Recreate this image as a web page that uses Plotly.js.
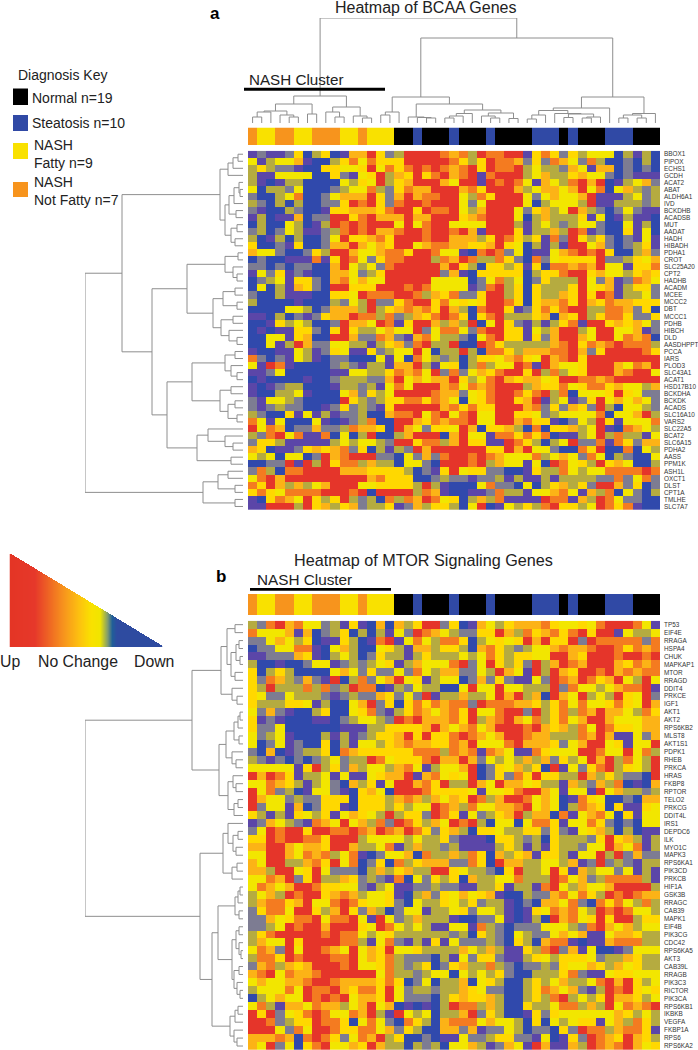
<!DOCTYPE html>
<html><head><meta charset="utf-8">
<script src="https://cdn.plot.ly/plotly-3.0.1.min.js"></script>
<style>html,body{margin:0;padding:0;background:#fff}#c{width:698px;height:1050px}</style>
</head><body><div id="c"></div>
<script>
// ---------- data ----------
const bcaaGenes = ["BBOX1","PIPOX","ECHS1","GCDH","ACAT2","ABAT","ALDH6A1","IVD","BCKDHB","ACADSB","MUT","AADAT","HADH","HIBADH","PDHA1","CROT","SLC25A20","CPT2","HADHB","ACADM","MCEE","MCCC2","DBT","MCCC1","PDHB","HIBCH","DLD","AASDHPPT","PCCA","IARS","PLOD3","SLC43A1","ACAT1","HSD17B10","BCKDHA","BCKDK","ACADS","SLC16A10","VARS2","SLC22A5","BCAT2","SLC6A15","PDHA2","AASS","PPM1K","ASH1L","OXCT1","DLST","CPT1A","TMLHE","SLC7A7"];
const mtorGenes = ["TP53","EIF4E","RRAGA","HSPA4","CHUK","MAPKAP1","MTOR","RRAGD","DDIT4","PRKCE","IGF1","AKT1","AKT2","RPS6KB2","MLST8","AKT1S1","PDPK1","RHEB","PRKCA","HRAS","FKBP8","RPTOR","TELO2","PRKCG","DDIT4L","IRS1","DEPDC6","ILK","MYO1C","MAPK3","RPS6KA1","PIK3CD","PRKCB","HIF1A","GSK3B","RRAGC","CAB39","MAPK1","EIF4B","PIK3CG","CDC42","RPS6KA5","AKT3","CAB39L","RRAGB","PIK3C3","RICTOR","PIK3CA","RPS6KB1","IKBKB","VEGFA","FKBP1A","RPS6","RPS6KA2"];
// expression level of each cell, R(ed, up) O A Y L K G P B(lue, down)
const bcaaCells = [
"PGPPGYBKYBPAARYGKRRRRO AOKROORRPYOYGYKLLLBKPKB",
"LPKLLAPBBKYOLOYYYRRRRR OYKYROOAGYGOALGOKBBGBKB",
"KYKGGPBBYYLLYRLOYORORO AORYROORKLKKGALPAABGBGB",
"KPPLLLLBBYGPLYRKAYRYOR AORPORRRKLAKKYALLGBGPPP",
"KPBPKKBBBBLKYLRKYARRRA LRRPROROLPALKORARBPKLAG",
"LBKKGLBBBGKLLOKGYOAARR RAOYRRRAKLAALARLOBLAKGK",
"GBBKLOBBGLAAARYGARAOOR RLKOYRRRLGLALLARPPPKLGK",
"KGBKBKBBGGYRORYGORRORR RLGLRRRRLBKLLLKRPPKKKGK",
"GPBBKGBBPYYAAAYORRYROO RLKARRRLGYAKLRAKGBGLGPP",
"PKBPPABGGRRYORAAARAARR RYAORRRLBKAKKKYPLBPKPPB",
"BKBBLKBPKRORORRRLRLORR LLLLRRRKPKLKGKLLGBBLPKB",
"GKBGLKPPGKORORAAORRORR ORAPRRRYPKKAKROPGBBYPLB",
"KBPKBKBBGLRYYAOYRRRORR AAAKYROYKYPOGRYKYGBGPLP",
"YBBGPYBBGAARALAYRRLAOO AAYYARYLBKPKPRRLAGBGKYP",
"ALLGBBGYKRRALLAOOYRROL LPBOROGLBPPLAORORYBBKAG",
"BGBBPPPOPYROLGYOORRRKO AROKKOYGBOGLYYYYRGGKYLA",
"GGBGBGGBBARLKLGORRRRRA RYKBYYKYPYBOOAOARLLPYYO",
"PLGYPGPBBAALGKYRRRRRRG APBYYYYYBKYYORRYALLKYAY",
"BGKLPYYGBAOLALLRRRRRLL LLBGLOKLBGYKKKRLGAPGOAL",
"BLBKPAYGBRRYYYRRROROLL LLPGORKYBYKKKYRLYAPKYYG",
"GBBKPPPBBYYLROOORROKAY OGGYRRKYBYKKAYRYROPKKLG",
"KBBBBPBBBKGLKRGGYORRYO LYLYRROYBYAAOYRAYOAAYYY",
"BBBBLLKBGAAAKRKYAOAOYR AKBORRYPGYOYORRKKOOAGYB",
"PPBKBGPGYAAROOKOGKAYOR OYBYORKKKYABAYRKYOOYGGY",
"BBPYKLKBBGRAALROPYRRAK AKRBLRYGPKPKYOPRRYAYALG",
"BPBPPYYGBYRYKKLALLRGLO OLGORRYYPLKARRKLRRLLAPG",
"BBLLPYABBRRAGGOAGPAOLK KGBLORYYPYGARRALRRLOAOB",
"BBLPKRAGGLLKKPKYAGORKK RBBROYKKKKKAORYOAOROOOK",
"PBBPPLKPGYLPPYGKLLRLBK KRKBOOYKAAAOORAGYRRRROY",
"OGBGPLKPBGGBBBLPLBOLKG KBKYYLAOYLRAORYRRRRRRRR",
"LPROPBBBBGKGPKKPAARKPL YBKOKLLROPRALLYRRRALOAR",
"PPGLBBBBBPPLLKKYOAOLRG OGLAYORRYRKOKLYRRRAORRL",
"BPBBBBPBBGKKKGGARLALAA RYKLORAYAALYRROOAORRRRR",
"PBPGKKBBBPKKGKPLOLRRRA OLOAORRRKAYYOLYOOYALLKA",
"PBBKKLPBBBLAGYKLRRRROA AGLYORROYORKOBLLLYRYLGG",
"GPLLKGBBBBRYKGKYYOOYOA LBLYORRYARPKLPGYRLALALG",
"GPGKGGBBPGYGKGPYRRRRRA OYOYYRRRAOGYGAYGRKBLLKG",
"KGBBYPLPKPGGKBBAOORLOR LORLLRRYYLGKLLLLOBLLARK",
"OLPLBBBLPBPGKOBBRRAYOA OORLLRRAOYYPBGLKRYPLLLO",
"RLOABGGAGGKOAAYBRALGYY LRABYYAKBOBYYAKLRPBOALK",
"KGORLOPPOBLBKRBBKARRRB ARLLPOOYOYOBPPKLRKOKKPL",
"GYYKPPPPPKLKLLKGRRYOOK ARYYPPROYKBKLRGGOPOYGAA",
"AYBPPGYAYAOGYBKPKGRARR RRRRYYRARLLGBBOYRBBOBLK",
"LKLBLLBGRAORRRGGBLGAGO RRORO ALLLOKLALGOLBKGBBL",
"BBGGRPRKRYOOKAKKBLLGBR RRORKALLPLBROLYKRYALBBK",
"GOKBOORRRRAAAYYYYKBGPY RLYYGGBBPYKKOLKLLOOOORO",
"LORARRRRRRRRRAOYYYBBGK GGPGGKPKPPKPKKKKGGOGLOG",
"OYRAKAKLARRRLLYYYYKRKP BBBLOGGBLBKYAKYGRRAGYBG",
"YOYLOOOORRRORBRRRRKOAP BBPPGOKKPLLAOLPAKOBLGBK",
"PBYOALRYKYRKGKBOKOAROL YBKAKOPPPPROOPAKROLGGBB",
"PPRRRKRYAKYAGKKYPGAKYY KBLRBPLKYKORYYKLROYOPBB"];
const mtorCells = [
"KGORAOLLGKPYPBABAKYRRG YBPALKYAAAOYLLYLORRROLP",
"OLLLAPABGKYBKBKPLGROAL KGGYYRAKOYAOYORYRRPLKKL",
"GGLALKYBPPYKBPORPLOLKO OYBKLYLYRARYYRGROOOOOGO",
"BGGLLOOPBLAKBBLYKPAAKY YKBAOYKGKLLAOAAORROYOAO",
"PPGGGAYPBKLKBGYKKPKYKK KLKLOYKYYLLRRAYRRRORROR",
"KBBPBBGLLPGKGKLYPKALLL ORGLRYKYGRKAROARRRAYOAO",
"YBKYKBBBBLALGYGGLGOLKA AGGLKRALPRKRAYRRORAOAOO",
"YGOAKGAGPRBKOGLARLYPKL LBGAGYGPPLGROAROYARLKRL",
"YKRKKKOKOGKROOBPKGLKKB BLRLLRLLKKKRGOLLKLAOORP",
"YLGGLKKKGPGKGGAYGLGRPK KAKKLRARKABRALRKLKRYLRG",
"YKKKYYLPKBBLARGYBYOYOA OOGROOOAAYKYOLOLLYOYLRA",
"LGAGPBBKYBBLYOGPKYOALA OYRLLORRGRKYOKOARAALKOY",
"YPGPBBBPPBGKLLKGRORAAA OYRKAORALOKYOLARRALLLAA",
"YGGLBBBBBBPPPKKYYYYARA LAOLARRRORAYAKOLROYYLAA",
"LGKLPBBBKPKPGKYYARYRYY OROALARROAAKKKOARAPPLGA",
"LBGLPGBBYBKPLLKYAOAAYY OARLLLORAAAYGLARRLYPLLR",
"GBABPGKKYBOAYYYYYYOOOK OAOPOALPPOYLLLRROLLRLOK",
"KGPGBGBGKLGKKROLYYYORA ARAGLKLKAKAGYKLRARKOLKR",
"LLLLLPYRKYGAKLLKAOLPKL LARBGYLAKYBRPLGYORKYLKR",
"RAROYPKKLPLPPLYAARPAOL YLRBGYGOYRYYKKRAKYKGGBR",
"LLOAYKPKLGBAKYPLRRAOYR KKRALRAALYKKPAKGAKOBPBA",
"RLOGKBPLLGPBYALBRRROYY YYLPLLYORRALPLLPRLAKKGK",
"RALLGKGGYYYBYYYKAOAKAL AYROKARROLALBPOYLBBGBAA",
"RGLLPABGYYPBYYYKYKLLRO AKOLLAAORLALBKOAYBYPPYL",
"YKPKPYLKYPLAYLKRKYYGRO YPLGKYARKAABOPLAOLBYPLL",
"PGALKGPOALRLAKOGROYKAL RORKBLLBLOOYPLLOYGBGBLL",
"GLRORRYRROOROAROAROYGY AKBYYLKKYYGYGPLYAKBKBPP",
"YYRORROOYRRRKLLLLKLKKY GPPPBYYKGKBYKKKGYRYAKPK",
"AARRALAAYRRAKKLOPKAKKG KPPPPKYKPKPYKKGLLRALOPK",
"LLRRALOAOKLOPBGLLABOKK AKOYBAKYAPYYKPLLRKRGAGG",
"ALRRKKAOYRLOBGYBOKYAAA GGOYBRAAKKLLKAPGRGKGPKK",
"AAKRRLYRLGGGBKAKYAKKRR YLKKGBYRKKLRYPAKLLGLPKP",
"LLOARGYRKKAYGKGPOBLGYK YBAKKLLOKKKROLAGKOOOOKP",
"LOALARROYYLLGPKLPPGGKG GPPKKYPKKPORLKALLARRRRK",
"KLAKRORRYAOAKLLYPBKAGY LALYAPBBKGGAOLOYKROROAA",
"KAOOYARLLOROYLLYGBLKKY LKYGKKPBGBAALOGBOYOLKOK",
"GYOOLRRYKARYGAKBGLLPKK LYGLLKPBPYLOAOLKROROLLK",
"GGALYOORLOORLPRLGKAKKK PBBGGLPBPKBRAOLYRYRRKYY",
"GGKLRORRARRRYLROLKLKPP LLPOKGBGGGLLLKGORALAKLL",
"KYORRRRROROOLKLYKKKKKK GKBYKGBLKGGLALAPPLAAYKK",
"KALLRYRRRROOKPLOGPKPYP LGGGKGBYKBAOOPBPPAOOOKK",
"LOAGRLRROALRLAYRLLYKKK KALKAKPPYKORGAPLBBPGLLL",
"KOOYRORRROORLAYOKGGGBK PLGYYGPPKYLKYYYLGKKAYKK",
"GAOKAYARRRORLLYOKGKYBG YAKKOKGBGGKGYLLAYKALYKK",
"AORLOAAORRRRRRLOKKGKLL BLKLKYGBBKKKYOGPPLYYLLL",
"LALLAAORROAAAAYOYBGLBK KABLYKBBKYKLAKKLORARYKL",
"KLLLOLROORAYOOYRLGKKGK KAYLGGBBKYOALAGPKRORYLY",
"BKLALLRORORLAAYRLGGGBK YAYYAKBBKYKORKLKYRAAYKL",
"LOKPAALOAAKLARLABPBPBK ROOKAKBBYKKLOOKAKRLOAOR",
"RYRGLYOROLLOARKPRLKLBK KARGYKBBPYGYLLLLLLAYKLK",
"RROGKYYROOYBLOLGBOYKBA OOOLALLKBYBLKLYYPLAKOYK",
"RRRLGOLRROYYOOLAGYKBBA AGAPGGLKBGGBYGROOKAOOYP",
"AAAOABOROYGLOARKYBBGBP PLGGKYYGGPLBPYGROAYRAYK",
"ALRGLBYORLLAYRAKKBKGKB LLAKPGALPRAPPAKROAORALY"];
// diagnosis of each sample column: F NASH fatty, N NASH not fatty, H normal, S steatosis
const sampleDiagnosis = "NFFNNFFNNNFFNFFFHHSHHHSHHHSHHHHSSSHSHHHSSSHHH";
const diagnosisKey = [["Normal n=19","#000000"],["Steatosis n=10","#3049a5"],["NASH","#f9e100"],["NASH","#f7941d"]];
// dendrograms as nested [height, childA, childB]; a number child is a leaf index
const bcaaColumnTree = [105,
  [27,[19,[12,[11,[6,0,1],2],[8,3,[6,4,5]]],[9,6,7]],[16,[11,8,[6,9,10]],[7,11,[5,12,13]]]],
  [85,
    [26,[11,[8,14,15],16],[19,[6,17,[5.5,18,[5,19,20]]],[13,[9.5,[7,[5,21,22],23],24],[10,[7,25,[5,26,27]],[4.5,28,29]]]]],
    [26,[15,[12.5,[8,[4,30,31],32],[9.5,33,[9,[5.5,34,35],[6,[5,36,37],38]]]],39],[9.5,[8,[5,40,41],[5,42,43]],44]]]];
const bcaaRowTree = [158,
  [121,
    [23,[15,[10,[5,0,1],2],3],[18,[14,[9,[4,4,[3,5,6]],7],[7,8,9]],[12,[6,10,11],[8,12,13]]]],
    [91,
      [56,[18,[5,14,15],[10,16,[6,17,18]]],[30,[20,[8,19,20],[6,21,22]],[22,[10,23,24],[14,25,[6,26,27]]]]],
      [76,[51,[18,[8,28,29],[12,30,[6,31,32]]],[23,[12,33,34],[15,[8,35,36],[6,37,38]]]],
          [46,[35,39,[18,40,[10,41,42]]],[12,43,44]]]]],
  [40,[25,[15,45,46],[8,47,48]],[8,49,50]]];
const mtorRowTree = [158,
  [51,
    [22,[16,[8,0,1],[12,[7,[4,2,3],[3,4,5]],[8,6,7]]],[11,8,[6,9,10]]],
    [24,[17,[9,[5,[3,11,12],13],[4,14,15]],[11,16,[7,17,18]]],[15,[10,19,[7,20,21]],[9,[5,22,23],24]]]],
  [43,
    [20,[15,25,[10,[5,26,27],[7,28,29]]],[11,[6,30,31],32]],
    [31,[25,[8,[5,[3,33,34],35],[4,36,37]],[11,[7,[4,38,39],[4,40,[2,41,42]]],[9,[4,43,44],[6,45,[3,46,47]]]]],
        [13,[8,[5,48,49],50],[9,51,[6,52,53]]]]]];
// ---------- styling ----------
const levelOrder = "ROAYLKGPB";
const levelColors = ["#e5352a","#f47b20","#fcb316","#ffd800","#f2e600","#b5ab40","#7d7c92","#5b46a8","#3049ac"];
const diagOrder = "HSFN";
const diagColors = ["#000000","#3049a5","#f9e100","#f7941d"];
const rampStops = [[0,"#e43525"],[0.16,"#e6382a"],[0.35,"#f7941d"],[0.45,"#fdc010"],[0.53,"#f9e100"],[0.59,"#f0e500"],[0.64,"#7f9a70"],[0.67,"#1f5f98"],[0.7,"#2e4ba0"],[1,"#2e4ba0"]];
const FONT = "'Liberation Sans', Arial, sans-serif", W = 698, H = 1050, NCOL = 45;
const steps = cols => cols.flatMap((c,i)=>[[i/cols.length,c],[(i+1)/cols.length,c]]);
const parse = rows => rows.map(r=>[...r.replace(/ /g,"")].map(c=>levelOrder.indexOf(c)));
const layout = {width:W,height:H,margin:{l:0,r:0,t:0,b:0},paper_bgcolor:"#fff",plot_bgcolor:"rgba(0,0,0,0)",showlegend:false,
  font:{family:FONT,color:"#222"},annotations:[],shapes:[]};
const traces = []; let axN = 0;
function axes(x0,x1,y0,y1,xr,yr,yExtra){ // pixel box -> axis pair
  axN++; const s = axN===1?"":axN;
  layout["xaxis"+s] = {domain:[x0/W,x1/W],range:xr,visible:false,fixedrange:true,anchor:"y"+s};
  layout["yaxis"+s] = Object.assign({domain:[1-y1/H,1-y0/H],range:yr,visible:false,fixedrange:true,anchor:"x"+s},yExtra||{});
  return {xaxis:"x"+s,yaxis:"y"+s};
}
function tree(node,lines){ // returns [position,height], appends bracket lines
  if(typeof node==="number") return [node,0];
  const a = tree(node[1],lines), b = tree(node[2],lines), h = node[0];
  lines.push([a[0],a[1]],[a[0],h],[b[0],h],[b[0],b[1]],[null,null]);
  return [(a[0]+b[0])/2,h];
}
function dendro(t,ax,rowwise){
  const l=[]; tree(t,l);
  traces.push(Object.assign({type:"scatter",mode:"lines",hoverinfo:"skip",line:{color:"#8e8e8e",width:1},
    x:l.map(p=>rowwise?p[1]:p[0]),y:l.map(p=>rowwise?p[0]:p[1])},ax));
}
function heat(cells,genes,y0,y1){
  const ax = axes(248,660,y0,y1,[-.5,NCOL-.5],[genes.length-.5,-.5],{visible:true,side:"right",showgrid:false,zeroline:false,showline:false,ticks:"",
    tickmode:"array",tickvals:genes.map((_,i)=>i),ticktext:genes,ticklabelstandoff:3,tickfont:{size:6.4,color:"#333",family:FONT},automargin:false});
  traces.push(Object.assign({type:"heatmap",z:parse(cells),zmin:0,zmax:8,colorscale:steps(levelColors),showscale:false,hoverinfo:"skip"},ax));
}
function bar(y0,y1){
  const ax = axes(248,660,y0,y1,[-.5,NCOL-.5],[-.5,.5]);
  traces.push(Object.assign({type:"heatmap",z:[[...sampleDiagnosis].map(c=>diagOrder.indexOf(c))],zmin:0,zmax:3,colorscale:steps(diagColors),showscale:false,hoverinfo:"skip"},ax));
}
function text(t,x,y,size,anchor,bold){
  layout.annotations.push({text:bold?"<b>"+t+"</b>":t,x:x/W,y:1-y/H,xref:"paper",yref:"paper",xanchor:anchor||"left",yanchor:"middle",showarrow:false,
    font:{size:size,family:FONT,color:bold?"#000":"#222"},borderpad:0});
}
function rect(x0,y0,x1,y1,c){layout.shapes.push({type:"rect",xref:"paper",yref:"paper",x0:x0/W,x1:x1/W,y0:1-y0/H,y1:1-y1/H,fillcolor:c,line:{width:0}});}
// ---------- panel a ----------
heat(bcaaCells,bcaaGenes,150.7,510);
dendro(bcaaColumnTree,axes(248,660,18,123,[-.5,NCOL-.5],[0,105]),false);
dendro(bcaaRowTree,axes(85,243,150.7,510,[158,0],[bcaaGenes.length-.5,-.5]),true);
bar(127.5,145);
rect(244,87.7,385,90.7,"#000");
text("Heatmap of BCAA Genes",425,7,16,"center");
text("a",209,13,17,"left",true);
text("NASH Cluster",248,80,15.2);
// ---------- panel b ----------
heat(mtorCells,mtorGenes,620.7,1050);
dendro(mtorRowTree,axes(85,243,620.7,1050,[158,0],[mtorGenes.length-.5,-.5]),true);
bar(594,615);
rect(250,588,391,590.7,"#000");
text("Heatmap of MTOR Signaling Genes",423,560,16.2,"center");
text("b",215,576,17,"left",true);
text("NASH Cluster",256,579,15.3);
// ---------- key ----------
text("Diagnosis Key",17,75,14);
[[88.5,105],[115,131],[143,159],[182,197]].forEach((b,i)=>rect(13,b[0],28,b[1],diagnosisKey[i][1]));
text(diagnosisKey[0][0],31,98,14);
text(diagnosisKey[1][0],30.5,123,14);
text(diagnosisKey[2][0],32.5,145,14);
text("Fatty n=9",32.5,163,14);
text(diagnosisKey[3][0],32.5,182,14);
text("Not Fatty n=7",32.5,200,14);
// ---------- colour wedge ----------
const TW=153, TH=93, wedge=[];
for(let r=0;r<TH;r++){const row=[];for(let c=0;c<TW;c++) row.push((r/TH)<=1-c/TW?c/(TW-1):null);wedge.push(row);}
traces.push(Object.assign({type:"heatmap",z:wedge,zmin:0,zmax:1,colorscale:rampStops,showscale:false,hoverinfo:"skip"},axes(9.5,162.5,554,647,[-.5,TW-.5],[-.5,TH-.5])));
text("Up",-1,661,15.8);
text("No Change",37,661,15.8);
text("Down",133,661,15.8);
Plotly.newPlot("c",traces,layout,{displayModeBar:false,staticPlot:true});
</script></body></html>
